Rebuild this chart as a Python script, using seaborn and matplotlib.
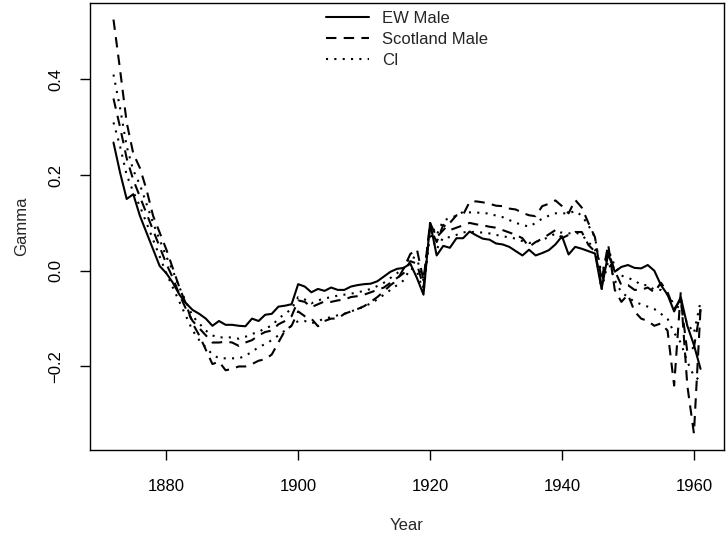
import matplotlib
matplotlib.use("Agg")
import matplotlib.pyplot as plt
from matplotlib.lines import Line2D
import numpy as np
import pandas as pd
import seaborn as sns

# years 1872..1961
years = np.arange(1872, 1962)

ew_male = [
    0.268, 0.205, 0.150, 0.160, 0.115, 0.080, 0.045, 0.010, -0.005, -0.025,
    -0.050, -0.068, -0.082, -0.090, -0.100, -0.115, -0.105, -0.113, -0.113, -0.115,
    -0.116, -0.100, -0.105, -0.092, -0.090, -0.075, -0.073, -0.070, -0.028, -0.033,
    -0.045, -0.038, -0.042, -0.035, -0.040, -0.040, -0.033, -0.030, -0.028, -0.027,
    -0.022, -0.012, -0.002, 0.004, 0.006, 0.015, -0.015, -0.050, 0.100, 0.032,
    0.052, 0.048, 0.068, 0.068, 0.082, 0.074, 0.067, 0.065, 0.057, 0.055,
    0.050, 0.041, 0.032, 0.044, 0.032, 0.037, 0.043, 0.055, 0.072, 0.034,
    0.050, 0.046, 0.041, 0.036, -0.038, 0.035, -0.002, 0.008, 0.012, 0.006,
    0.005, 0.012, 0.000, -0.030, -0.050, -0.085, -0.055, -0.115, -0.155, -0.205,
]

scot_male = [
    0.525, 0.420, 0.310, 0.245, 0.215, 0.170, 0.115, 0.080, 0.045, 0.005,
    -0.035, -0.070, -0.110, -0.135, -0.165, -0.195, -0.190, -0.208, -0.205, -0.200,
    -0.200, -0.195, -0.188, -0.185, -0.175, -0.150, -0.125, -0.115, -0.085, -0.095,
    -0.100, -0.116, -0.105, -0.100, -0.100, -0.090, -0.085, -0.080, -0.074, -0.065,
    -0.055, -0.043, -0.030, -0.020, 0.005, 0.035, 0.045, -0.020, 0.100, 0.070,
    0.085, 0.100, 0.116, 0.117, 0.144, 0.145, 0.143, 0.140, 0.136, 0.135,
    0.130, 0.128, 0.121, 0.116, 0.114, 0.135, 0.140, 0.147, 0.135, 0.120,
    0.148, 0.132, 0.100, 0.070, -0.020, 0.055, -0.040, -0.065, -0.050, -0.085,
    -0.100, -0.105, -0.115, -0.110, -0.125, -0.240, -0.045, -0.240, -0.340, -0.080,
]

scot_fit = [
    0.360, 0.300, 0.235, 0.190, 0.155, 0.120, 0.085, 0.050, 0.015, -0.015,
    -0.050, -0.080, -0.105, -0.120, -0.135, -0.150, -0.150, -0.148, -0.150, -0.157,
    -0.150, -0.145, -0.135, -0.128, -0.125, -0.112, -0.105, -0.095, -0.062, -0.065,
    -0.076, -0.070, -0.064, -0.065, -0.062, -0.060, -0.055, -0.053, -0.050, -0.045,
    -0.040, -0.035, -0.025, -0.015, -0.005, 0.020, 0.015, -0.035, 0.090, 0.060,
    0.096, 0.085, 0.090, 0.095, 0.100, 0.097, 0.095, 0.092, 0.090, 0.085,
    0.080, 0.075, 0.068, 0.050, 0.060, 0.067, 0.076, 0.085, 0.068, 0.075,
    0.081, 0.081, 0.054, 0.040, -0.030, 0.040, 0.000, -0.030, -0.030, -0.040,
    -0.040, -0.035, -0.045, -0.025, -0.045, -0.080, -0.060, -0.170, -0.160, -0.080,
]

ci_upper = [
    0.410, 0.340, 0.260, 0.210, 0.180, 0.140, 0.100, 0.065, 0.030, 0.000,
    -0.035, -0.065, -0.095, -0.110, -0.125, -0.135, -0.140, -0.138, -0.140, -0.142,
    -0.138, -0.132, -0.128, -0.120, -0.115, -0.100, -0.090, -0.080, -0.055, -0.060,
    -0.068, -0.062, -0.058, -0.055, -0.052, -0.050, -0.048, -0.045, -0.042, -0.038,
    -0.032, -0.025, -0.015, -0.005, 0.005, 0.030, 0.025, -0.020, 0.100, 0.075,
    0.105, 0.110, 0.115, 0.123, 0.122, 0.122, 0.120, 0.120, 0.115, 0.112,
    0.106, 0.100, 0.096, 0.092, 0.100, 0.109, 0.115, 0.120, 0.120, 0.120,
    0.125, 0.115, 0.095, 0.070, -0.010, 0.045, 0.010, -0.010, -0.015, -0.020,
    -0.030, -0.030, -0.040, -0.040, -0.050, -0.070, -0.080, -0.110, -0.130, -0.065,
]

ci_lower = [
    0.310, 0.260, 0.200, 0.165, 0.135, 0.100, 0.065, 0.030, -0.005, -0.035,
    -0.065, -0.095, -0.125, -0.145, -0.160, -0.175, -0.183, -0.183, -0.183, -0.183,
    -0.178, -0.169, -0.160, -0.153, -0.145, -0.135, -0.125, -0.115, -0.105, -0.105,
    -0.110, -0.105, -0.100, -0.097, -0.093, -0.090, -0.085, -0.080, -0.075, -0.068,
    -0.060, -0.050, -0.040, -0.030, -0.020, 0.005, 0.000, -0.045, 0.080, 0.045,
    0.070, 0.070, 0.075, 0.080, 0.082, 0.080, 0.080, 0.078, 0.075, 0.072,
    0.070, 0.067, 0.062, 0.058, 0.060, 0.065, 0.070, 0.078, 0.080, 0.078,
    0.080, 0.075, 0.060, 0.045, -0.040, 0.020, -0.020, -0.045, -0.055, -0.065,
    -0.070, -0.075, -0.080, -0.090, -0.100, -0.130, -0.150, -0.190, -0.220, -0.230,
]

y_ticks = [-0.2, 0.0, 0.2, 0.4]
y_tick_labels = ["\u22120.2", "0.0", "0.2", "0.4"]
x_ticks = [1880, 1900, 1920, 1940, 1960]

data = pd.DataFrame({
    "year": years,
    "ew": ew_male,
    "scot": scot_male,
    "fit": scot_fit,
    "hi": ci_upper,
    "lo": ci_lower,
})

sns.set_theme(style="white")
plt.rcParams["font.family"] = ["Liberation Sans", "DejaVu Sans"]

fig = plt.figure(figsize=(7.26, 5.35), dpi=100)
W, H = 726, 535
ax = fig.add_axes([90 / W, (H - 450) / H, (724 - 90) / W, (450 - 3) / H])

lw = 1.5
dash = (5, 3.5)
dot = (1, 3)
sns.lineplot(data=data, x="year", y="ew", ax=ax, color="black", lw=lw)
sns.lineplot(data=data, x="year", y="scot", ax=ax, color="black", lw=lw, dashes=dash)
sns.lineplot(data=data, x="year", y="fit", ax=ax, color="black", lw=lw, dashes=dash)
sns.lineplot(data=data, x="year", y="hi", ax=ax, color="black", lw=lw, dashes=dot)
sns.lineplot(data=data, x="year", y="lo", ax=ax, color="black", lw=lw, dashes=dot)

ax.set_xlim(1868.44, 1964.56)
ax.set_ylim(-0.3746, 0.5596)
ax.set_xticks(x_ticks)
ax.set_xticklabels([str(t) for t in x_ticks], fontsize=12)
ax.set_yticks(y_ticks)
ax.set_yticklabels(y_tick_labels, fontsize=12, rotation=90, va="center")
ax.tick_params(axis="both", direction="out", length=7, width=1, color="black",
               bottom=True, left=True, labelcolor="black")
ax.tick_params(axis="x", pad=14)
ax.tick_params(axis="y", pad=12)
for s in ax.spines.values():
    s.set_color("black")
    s.set_linewidth(1)
ax.set_xlabel("")
ax.set_ylabel("")
ax.grid(False)

fig.text(407 / W, 1 - 525 / H, "Year", ha="center", va="center", fontsize=12)
fig.text(22 / W, 1 - 226.5 / H, "Gamma", ha="center", va="center", rotation=90, fontsize=12)

handles = [
    Line2D([], [], color="black", lw=lw),
    Line2D([], [], color="black", lw=lw, dashes=dash),
    Line2D([], [], color="black", lw=lw, dashes=dot),
]
ax.legend(handles, ["EW Male", "Scotland Male", "CI"], loc="upper center",
          frameon=False, fontsize=12, handlelength=2.6, labelspacing=0.35,
          borderaxespad=0.1)

fig.savefig("out.png", dpi=100)
